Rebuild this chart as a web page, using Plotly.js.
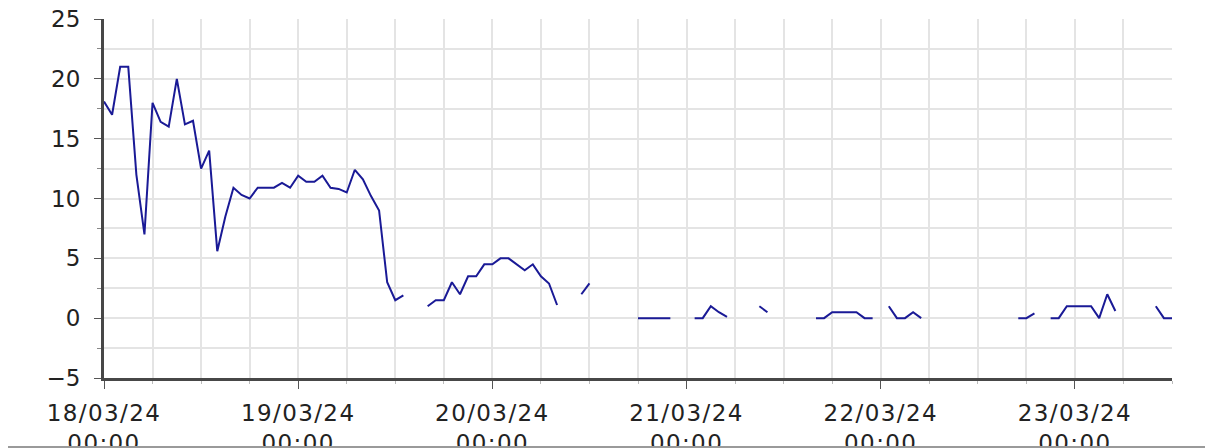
<!DOCTYPE html>
<html>
<head>
<meta charset="utf-8">
<script src="https://cdn.plot.ly/plotly-3.0.1.min.js"></script>
<style>
  html, body { margin: 0; padding: 0; background: #fff; overflow: hidden; }
  #chart { width: 1205px; height: 448px; position: relative; }
  #bottomRule { position: absolute; left: 8px; right: 0; top: 446px; height: 2px; background: #9a9a9a; }
  #chart .xtick text { letter-spacing: 1.4px; }
</style>
</head>
<body>
<div id="chart"></div>
<div id="bottomRule"></div>
<script>
// Hourly samples starting 18/03/24 00:00 (null = no reading)
const startTime = '2024-03-18T00:00:00';
const stepHours = 1;
const values = [
  18.1, 17, 21, 21, 12, 7, 18, 16.4, 16, 20, 16.2, 16.5,          // 00-11 (18/03)
  12.5, 14, 5.6, 8.5, 10.9, 10.3, 10, 10.9, 10.9, 10.9, 11.3, 10.9, // 12-23
  11.9, 11.4, 11.4, 11.9, 10.9, 10.8, 10.5, 12.4, 11.6, 10.2, 9, 3, // 19/03 00-11
  1.5, 1.9, null, null, 1, 1.5, 1.5, 3, 2, 3.5, 3.5, 4.5,          // 12-23
  4.5, 5, 5, 4.5, 4, 4.5, 3.5, 2.9, 1.1, null, null, 2,             // 20/03 00-11
  2.9, null, null, null, null, null, 0, 0, 0, 0, 0, null,           // 12-23
  null, 0, 0, 1, 0.5, 0.1, null, null, null, 1, 0.5, null,          // 21/03 00-11
  null, null, null, null, 0, 0, 0.5, 0.5, 0.5, 0.5, 0, 0,           // 12-23
  null, 1, 0, 0, 0.5, 0, null, null, null, null, null, null,        // 22/03 00-11
  null, null, null, null, null, 0, 0, 0.4, null, 0, 0, 1,           // 12-23
  1, 1, 1, 0, 2, 0.6, null, null, null, null, 1, 0,                 // 23/03 00-11
  0                                                                 // 12
];
const xRange = ['2024-03-18 00:00', '2024-03-23 12:00'];
const yRange = [-5, 25];

const t0 = new Date(startTime + 'Z').getTime();
const times = values.map((_, i) => new Date(t0 + i * stepHours * 3600000).toISOString().slice(0, 16).replace('T', ' '));

const tickFont = { family: 'DejaVu Sans, Verdana, sans-serif', size: 23, color: '#222222' };
const gridColor = '#e4e4e4';

const trace = {
  type: 'scatter',
  mode: 'lines',
  x: times,
  y: values,
  connectgaps: false,
  line: { color: '#1a1a96', width: 2, shape: 'linear' },
  hoverinfo: 'skip'
};

const layout = {
  width: 1205,
  height: 448,
  autosize: false,
  margin: { l: 104, r: 33, t: 19, b: 70, pad: 0 },
  paper_bgcolor: '#ffffff',
  plot_bgcolor: '#ffffff',
  showlegend: false,
  xaxis: {
    type: 'date',
    range: xRange,
    dtick: 86400000,
    tick0: '2024-03-18 00:00',
    tickformat: '%d/%m/%y<br>%H:%M',
    tickfont: tickFont,
    ticks: 'outside',
    ticklen: 8,
    tickwidth: 1,
    tickcolor: '#555555',
    ticklabelstandoff: 4,
    showgrid: true,
    gridcolor: gridColor,
    gridwidth: 2,
    showline: true,
    linecolor: '#474747',
    linewidth: 3,
    zeroline: false,
    fixedrange: true,
    minor: {
      dtick: 6 * 3600000,
      showgrid: true,
      gridcolor: gridColor,
      gridwidth: 2,
      ticks: 'outside',
      ticklen: 3,
      tickcolor: '#bbbbbb'
    }
  },
  yaxis: {
    range: yRange,
    dtick: 5,
    tick0: 0,
    tickfont: tickFont,
    ticks: 'outside',
    ticklen: 7,
    tickwidth: 1,
    tickcolor: '#555555',
    ticklabelstandoff: 9,
    showgrid: true,
    gridcolor: gridColor,
    gridwidth: 2,
    showline: true,
    linecolor: '#474747',
    linewidth: 3,
    zeroline: false,
    fixedrange: true,
    minor: {
      dtick: 2.5,
      showgrid: true,
      gridcolor: gridColor,
      gridwidth: 2,
      ticks: 'outside',
      ticklen: 4,
      tickcolor: '#888888'
    }
  }
};

Plotly.newPlot('chart', [trace], layout, { displayModeBar: false, staticPlot: true });
</script>
</body>
</html>
